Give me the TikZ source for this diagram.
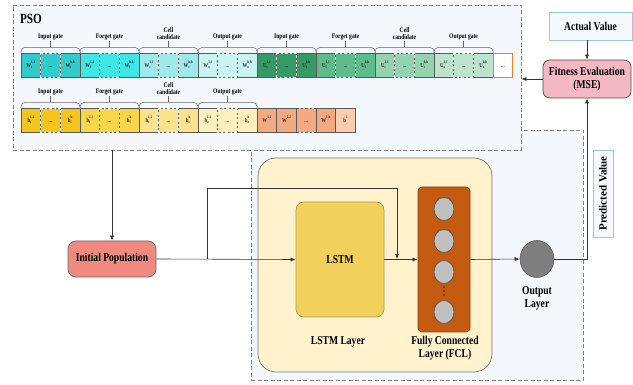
\documentclass[tikz,border=0pt]{standalone}
\usepackage{fontspec}
\setmainfont{Liberation Serif}[FakeStretch=0.8]
\newfontfamily\plainserif{Liberation Serif}
\usetikzlibrary{arrows.meta,calc,shapes.geometric}
\definecolor{psobg}{HTML}{F4F8FC}
\definecolor{dashc}{HTML}{808080}
\definecolor{cwi}{HTML}{30CCCC}
\definecolor{cwf}{HTML}{3EE6E6}
\definecolor{cwc}{HTML}{9EEAEA}
\definecolor{cwo}{HTML}{CAF4F4}
\definecolor{cui}{HTML}{349A66}
\definecolor{cuf}{HTML}{5EBB8C}
\definecolor{cuc}{HTML}{94D3B0}
\definecolor{cuo}{HTML}{BEE3CD}
\definecolor{cbi}{HTML}{F6C51C}
\definecolor{cbf}{HTML}{F9D54A}
\definecolor{cbc}{HTML}{FBE38E}
\definecolor{cbo}{HTML}{FDEFBE}
\definecolor{cww}{HTML}{F4A980}
\definecolor{cbb}{HTML}{F8CDB0}
\definecolor{corange}{HTML}{ED7D31}
\definecolor{initc}{HTML}{F08A80}
\definecolor{fitc}{HTML}{F4B8C4}
\definecolor{contc}{HTML}{FFF2CC}
\definecolor{lstmc}{HTML}{F1D05C}
\definecolor{lstmb}{HTML}{A89A5A}
\definecolor{fclc}{HTML}{C55A11}
\definecolor{fclb}{HTML}{8B3E0E}
\definecolor{neuc}{HTML}{C0C0C0}
\definecolor{outc}{HTML}{7F7F7F}
\definecolor{lbfill}{HTML}{F5F9FD}
\definecolor{lbdraw}{HTML}{9DC3E6}
\newcommand\cellt[3]{\textbf{#1}\rlap{\raisebox{-1.7pt}{\fontsize{4}{4}\selectfont\bfseries #2}}\raisebox{3.2pt}{\fontsize{4}{4}\selectfont\bfseries #3}}
\def\w{19.67}
% #1 name, #2 x0, #3 ytop, #4 ybot, #5 colour, #6 label A, #7 label B
\newcommand\pgroup[7]{%
  \pgfmathsetmacro\xa{#2}\pgfmathsetmacro\xb{#2+\w}%
  \pgfmathsetmacro\xc{#2+2*\w}\pgfmathsetmacro\xd{#2+3*\w}%
  \fill[#5] (\xa,#3) rectangle (\xd,#4);
  \draw[cellb] (\xa,#3) rectangle (\xd,#4);
  \draw[cellb] (\xb,#3) -- (\xb,#4) (\xc,#3) -- (\xc,#4);
  \draw[wdash] (\xb,#3) rectangle (\xc,#4);
  \node[ctext] (#1a) at ({(\xa+\xb)/2},{(#3+#4)/2}) {#6};
  \node[ctext] (#1b) at ({(\xb+\xc)/2},{(#3+#4)/2+2}) {...};
  \node[ctext] (#1c) at ({(\xc+\xd)/2},{(#3+#4)/2}) {#7};
}
% #1 name, #2 x0, #3 ytop, #4 label
\newcommand\pbrack[4]{%
  \pgfmathsetmacro\xa{#2}\pgfmathsetmacro\xd{#2+3*\w}\pgfmathsetmacro\xm{#2+1.5*\w}%
  \draw[brk,rounded corners=4] (\xa,#3) -- (\xa,#3-5.5) -- (\xd,#3-5.5) -- (\xd,#3);
  \draw[brk] (\xm,#3-5.5) -- (\xm,#3-12);
  \node[glab] (#1) at (\xm,#3-12) {#4};
}
\tikzset{
  cellb/.style={draw=black!65,line width=0.5pt},
  wdash/.style={draw=white,line width=0.6pt,dash pattern=on 2.5pt off 2pt},
  ctext/.style={font=\fontsize{6}{6.5}\selectfont\bfseries,inner sep=0pt,text=black!85},
  brk/.style={draw=black!60,line width=0.5pt},
  glab/.style={font=\fontsize{7}{7.5}\selectfont\bfseries,anchor=south,inner sep=1pt,align=center},
  dbox/.style={draw=dashc,fill=psobg,line width=0.7pt,dash pattern=on 4pt off 2.5pt},
  lab/.style={font=\fontsize{12}{13}\selectfont\bfseries,align=center,inner sep=1pt},
  arr/.style={draw=black!80,line width=0.6pt,-{Latex[length=5pt,width=4pt]}},
}
\begin{document}
\begin{tikzpicture}[x=1pt,y=-1pt]
\useasboundingbox (0,0) rectangle (633,385);
% dashed regions
\node[dbox,minimum width=332,minimum height=250,inner sep=0pt] (nnbox) at (417,255) {};
\node[dbox,minimum width=508,minimum height=145,inner sep=0pt] (psobox) at (267,77.5) {};
\node[font=\fontsize{14}{15}\selectfont\bfseries,inner sep=0pt] (pso) at (31,19) {PSO};
% row 1
\def\ya{53}\def\yb{77}
\pgroup{g1}{21+0*3*\w}{\ya}{\yb}{cwi}{\cellt{W}{i}{1,1}}{\cellt{W}{i}{h,h}}
\pgroup{g2}{21+1*3*\w}{\ya}{\yb}{cwf}{\cellt{W}{f}{1,1}}{\cellt{W}{f}{h,h}}
\pgroup{g3}{21+2*3*\w}{\ya}{\yb}{cwc}{\cellt{W}{c}{1,1}}{\cellt{W}{c}{h,h}}
\pgroup{g4}{21+3*3*\w}{\ya}{\yb}{cwo}{\cellt{W}{o}{1,1}}{\cellt{W}{o}{h,h}}
\pgroup{g5}{21+4*3*\w}{\ya}{\yb}{cui}{\cellt{U}{i}{1,1}}{\cellt{U}{i}{h,h}}
\pgroup{g6}{21+5*3*\w}{\ya}{\yb}{cuf}{\cellt{U}{f}{1,1}}{\cellt{U}{f}{h,h}}
\pgroup{g7}{21+6*3*\w}{\ya}{\yb}{cuc}{\cellt{U}{c}{1,1}}{\cellt{U}{c}{h,h}}
\pgroup{g8}{21+7*3*\w}{\ya}{\yb}{cuo}{\cellt{U}{o}{1,1}}{\cellt{U}{o}{h,h}}
\draw[draw=corange,line width=0.9pt,fill=white] ({21+24*\w},\ya) rectangle ({21+25*\w},\yb);
\node[ctext] (orx) at ({21+24.5*\w},{(\ya+\yb)/2+2}) {...};
\pbrack{t1}{21+0*3*\w}{\ya}{Input gate}
\pbrack{t2}{21+1*3*\w}{\ya}{Forget gate}
\pbrack{t3}{21+2*3*\w}{\ya}{Cell\\candidate}
\pbrack{t4}{21+3*3*\w}{\ya}{Output gate}
\pbrack{t5}{21+4*3*\w}{\ya}{Input gate}
\pbrack{t6}{21+5*3*\w}{\ya}{Forget gate}
\pbrack{t7}{21+6*3*\w}{\ya}{Cell\\candidate}
\pbrack{t8}{21+7*3*\w}{\ya}{Output gate}
% row 2
\def\yc{108}\def\yd{132}
\pgroup{h1}{21+0*3*\w}{\yc}{\yd}{cbi}{\cellt{b}{i}{1,1}}{\cellt{b}{i}{h}}
\pgroup{h2}{21+1*3*\w}{\yc}{\yd}{cbf}{\cellt{b}{f}{1,1}}{\cellt{b}{f}{h}}
\pgroup{h3}{21+2*3*\w}{\yc}{\yd}{cbc}{\cellt{b}{c}{1,1}}{\cellt{b}{c}{h}}
\pgroup{h4}{21+3*3*\w}{\yc}{\yd}{cbo}{\cellt{b}{o}{1,1}}{\cellt{b}{o}{h}}
\pbrack{s1}{21+0*3*\w}{\yc}{Input gate}
\pbrack{s2}{21+1*3*\w}{\yc}{Forget gate}
\pbrack{s3}{21+2*3*\w}{\yc}{Cell\\candidate}
\pbrack{s4}{21+3*3*\w}{\yc}{Output gate}
\fill[cww] ({21+12*\w},\yc) rectangle ({21+16*\w},\yd);
\fill[cbb] ({21+16*\w},\yc) rectangle ({21+17*\w},\yd);
\draw[cellb] ({21+12*\w},\yc) rectangle ({21+13*\w},\yd);
\draw[cellb] ({21+13*\w},\yc) rectangle ({21+14*\w},\yd);
\draw[cellb] ({21+15*\w},\yc) rectangle ({21+16*\w},\yd);
\draw[cellb] ({21+16*\w},\yc) rectangle ({21+17*\w},\yd);
\draw[cellb,dash pattern=on 2.5pt off 2pt] ({21+14*\w},\yc) -- ({21+15*\w},\yc) ({21+14*\w},\yd) -- ({21+15*\w},\yd);
\node[ctext] (k1) at ({21+12.5*\w},{(\yc+\yd)/2}) {\cellt{W}{}{1,1}};
\node[ctext] (k2) at ({21+13.5*\w},{(\yc+\yd)/2}) {\cellt{W}{}{1,2}};
\node[ctext] (k3) at ({21+14.5*\w},{(\yc+\yd)/2+2}) {...};
\node[ctext] (k4) at ({21+15.5*\w},{(\yc+\yd)/2}) {\cellt{W}{}{1,h}};
\node[ctext] (k5) at ({21+16.5*\w},{(\yc+\yd)/2}) {\cellt{b}{}{1}};
% right side boxes
\node[lab,draw=lbdraw,fill=lbfill,line width=0.6pt,minimum width=83,minimum height=28] (act) at (590.5,26) {Actual Value};
\node[lab,draw=black!70,fill=fitc,line width=0.7pt,rounded corners=7,minimum width=88,minimum height=38] (fit) at (587,79) {Fitness Evaluation\\(MSE)};
\node[draw=lbdraw,fill=lbfill,line width=0.6pt,rotate=90,minimum width=87,minimum height=20,inner sep=0pt,font=\plainserif\fontsize{11}{12}\selectfont\bfseries] (pv) at (603,193.5) {Predicted Value};
% init population
\node[lab,draw=black!60,fill=initc,line width=0.7pt,rounded corners=8,minimum width=88,minimum height=36] (init) at (112,259) {Initial Population};
% container
\node[draw=black!55,fill=contc,line width=0.7pt,rounded corners=18,minimum width=234,minimum height=214,inner sep=0pt] (cont) at (375,265) {};
\node[lab,draw=lstmb,fill=lstmc,line width=0.7pt,rounded corners=8,minimum width=88,minimum height=115] (lstm) at (340,259.5) {LSTM};
\node[draw=fclb,fill=fclc,line width=0.7pt,rounded corners=4,minimum width=52,minimum height=145,inner sep=0pt] (fcl) at (444,259.5) {};
\foreach \n/\yy in {1/209,2/241,3/272,4/312}{
  \node[draw=black!70,fill=neuc,line width=0.6pt,ellipse,minimum width=20,minimum height=23,inner sep=0pt] (n\n) at (444,\yy) {};
}
\foreach \n/\yy in {1/287,2/291,3/295}{
  \fill[black!85] (444,\yy) circle (0.9);
}
\node[draw=black!65,fill=outc,line width=0.6pt,ellipse,minimum width=34,minimum height=37,inner sep=0pt] (out) at (537,259) {};
\node[lab] (lstml) at (338,342) {LSTM Layer};
\node[lab] (fcll) at (445,348) {Fully Connected\\Layer (FCL)};
\node[lab] (outl) at (537,298) {Output\\Layer};
% connectors
\draw[arr] (init.north |- psobox.south) -- (init.north);
\draw[arr] (init.east) -- (lstm.west);
\coordinate (b1) at (207,259);
\coordinate (btop) at (207,188);
\coordinate (b2) at (397,259);
\draw[arr] (b1) -- (btop) -| (b2);
\draw[arr] (lstm.east) -- (fcl.west);
\draw[arr] (fcl.east) -- (out.west);
\draw[arr] (out.east) -| (fit.south);
\draw[arr] (act.south -| fit.north) -- (fit.north);
\draw[arr] (fit.west) -- (fit.west -| psobox.east);
\end{tikzpicture}
\end{document}
